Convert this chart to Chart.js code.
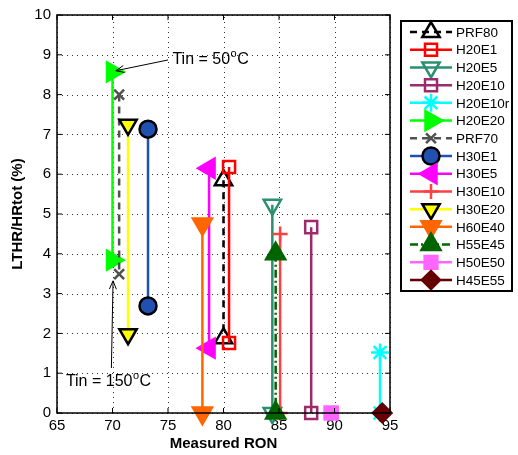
<!DOCTYPE html>
<html>
<head>
<meta charset="utf-8">
<script src="https://cdn.jsdelivr.net/npm/chart.js@4.4.0/dist/chart.umd.min.js"></script>
<style>
  html, body { margin: 0; padding: 0; background: #fff; }
</style>
</head>
<body>
<canvas id="ronChart" width="518" height="455"></canvas>
<script>
const seriesNames = ['PRF80', 'H20E1', 'H20E5', 'H20E10', 'H20E10r', 'H20E20', 'PRF70', 'H30E1',
                     'H30E5', 'H30E10', 'H30E20', 'H60E40', 'H55E45', 'H50E50', 'H45E55'];
const ron        = [80.0, 80.5, 84.4, 87.9, 94.1, 70.0, 70.6, 73.2, 78.7, 85.1, 71.4, 78.1, 84.7, 89.7, 94.3];
const lthrTin50  = [5.85, 6.18, 5.23, 4.67, 1.52, 8.57, 8.00, 7.13, 6.15, 4.50, 7.24, 4.75, 4.00, 0, 0];
const lthrTin150 = [1.88, 1.76, 0, 0, 0, 3.84, 3.49, 2.69, 1.63, 0, 1.98, 0, 0, 0, 0];

const xTicks = [65, 70, 75, 80, 85, 90, 95];
const yTicks = [0, 1, 2, 3, 4, 5, 6, 7, 8, 9, 10];

// estilo de cada serie (cor, traco, marcador)
const seriesStyles = [
  { color: '#000000', dash: [7, 5],       marker: 'triangle', rot: 0,   fill: 'transparent', edge: '#000000', size: 10 },
  { color: '#FF0000', dash: [],           marker: 'rect',     rot: 0,   fill: 'transparent', edge: '#FF0000', size: 8.5 },
  { color: '#2A9070', dash: [],           marker: 'triangle', rot: 180, fill: 'transparent', edge: '#2A9070', size: 10 },
  { color: '#9C2A6C', dash: [],           marker: 'rect',     rot: 0,   fill: 'transparent', edge: '#9C2A6C', size: 8.5 },
  { color: '#00FFFF', dash: [],           marker: 'star',     rot: 0,   fill: 'transparent', edge: '#00FFFF', size: 9 },
  { color: '#00FF00', dash: [],           marker: 'triangle', rot: 90,  fill: '#00FF00',     edge: '#00FF00', size: 11 },
  { color: '#505050', dash: [7, 5],       marker: 'crossRot', rot: 0,   fill: 'transparent', edge: '#505050', size: 7 },
  { color: '#2050B0', dash: [],           marker: 'circle',   rot: 0,   fill: '#2050B0',     edge: '#000000', size: 8.5 },
  { color: '#FF00FF', dash: [],           marker: 'triangle', rot: 270, fill: '#FF00FF',     edge: '#FF00FF', size: 11 },
  { color: '#FF4040', dash: [],           marker: 'cross',    rot: 0,   fill: 'transparent', edge: '#FF4040', size: 7.5 },
  { color: '#FFFF00', dash: [],           marker: 'triangle', rot: 180, fill: '#FFFF00',     edge: '#000000', size: 10 },
  { color: '#FF6600', dash: [],           marker: 'triangle', rot: 180, fill: '#FF6600',     edge: '#FF6600', size: 11 },
  { color: '#006400', dash: [8, 3, 2, 3], marker: 'triangle', rot: 0,   fill: '#006400',     edge: '#006400', size: 11 },
  { color: '#FF66FF', dash: [],           marker: 'rect',     rot: 0,   fill: '#FF66FF',     edge: '#FF66FF', size: 9 },
  { color: '#660000', dash: [],           marker: 'rectRot',  rot: 0,   fill: '#660000',     edge: '#660000', size: 9 }
];

const fonte = '"Liberation Sans", Arial, Helvetica, sans-serif';

const datasets = seriesNames.map(function(nome, i) {
  const st = seriesStyles[i];
  return {
    label: nome,
    data: [{ x: ron[i], y: lthrTin50[i] }, { x: ron[i], y: lthrTin150[i] }],
    borderColor: st.color,
    borderWidth: 2.5,
    borderDash: st.dash,
    pointStyle: st.marker,
    pointRotation: st.rot,
    pointRadius: st.size,
    pointBackgroundColor: st.fill,
    pointBorderColor: st.edge,
    pointBorderWidth: 2.5,
    showLine: true,
    fill: false,
    clip: false,
    order: seriesNames.length - i
  };
});

// desenha um marcador (legenda)
function desenharMarcador(ctx, st, x, y) {
  ctx.save();
  ctx.setLineDash([]);
  ctx.lineWidth = 2.5;
  ctx.strokeStyle = st.edge;
  ctx.fillStyle = st.fill;
  Chart.helpers.drawPoint(ctx, { pointStyle: st.marker, rotation: st.rot, radius: st.size, borderWidth: 2.5 }, x, y);
  ctx.restore();
}

function seta(ctx, x1, y1, x2, y2) {
  const ang = Math.atan2(y2 - y1, x2 - x1);
  ctx.beginPath();
  ctx.moveTo(x1, y1);
  ctx.lineTo(x2, y2);
  ctx.moveTo(x2 - 9 * Math.cos(ang - 0.4), y2 - 9 * Math.sin(ang - 0.4));
  ctx.lineTo(x2, y2);
  ctx.lineTo(x2 - 9 * Math.cos(ang + 0.4), y2 - 9 * Math.sin(ang + 0.4));
  ctx.stroke();
}

function textoTin(ctx, x, y, valor) {
  ctx.font = '16px ' + fonte;
  ctx.textBaseline = 'middle';
  ctx.textAlign = 'left';
  ctx.fillStyle = '#000';
  const t = 'Tin = ' + valor;
  ctx.fillText(t, x, y);
  let w = ctx.measureText(t).width;
  ctx.font = '11px ' + fonte;
  ctx.fillText('o', x + w + 0.5, y - 6);
  w += ctx.measureText('o').width + 1;
  ctx.font = '16px ' + fonte;
  ctx.fillText('C', x + w, y);
}

// grade pontilhada atras das series
const gradePlugin = {
  id: 'grade',
  beforeDatasetsDraw: function(chart) {
    const ctx = chart.ctx;
    const a = chart.chartArea;
    const sx = chart.scales.x, sy = chart.scales.y;
    ctx.save();
    ctx.strokeStyle = '#333';
    ctx.lineWidth = 1;
    ctx.setLineDash([1, 4]);
    ctx.beginPath();
    xTicks.forEach(function(v) {
      const px = Math.round(sx.getPixelForValue(v)) + 0.5;
      ctx.moveTo(px, a.bottom); ctx.lineTo(px, a.top);
    });
    yTicks.forEach(function(v) {
      const py = Math.round(sy.getPixelForValue(v)) + 0.5;
      ctx.moveTo(a.left, py); ctx.lineTo(a.right, py);
    });
    ctx.stroke();
    ctx.restore();
  }
};

// caixa, ticks internos, anotacoes e legenda
const extrasPlugin = {
  id: 'extras',
  afterDraw: function(chart) {
    const ctx = chart.ctx;
    const a = chart.chartArea;
    const sx = chart.scales.x, sy = chart.scales.y;
    ctx.save();

    // caixa do eixo
    ctx.strokeStyle = '#000';
    ctx.lineWidth = 1.5;
    ctx.setLineDash([]);
    ctx.strokeRect(a.left, a.top, a.right - a.left, a.bottom - a.top);

    // ticks para dentro
    ctx.lineWidth = 1;
    ctx.beginPath();
    xTicks.forEach(function(v) {
      const px = sx.getPixelForValue(v);
      ctx.moveTo(px, a.bottom); ctx.lineTo(px, a.bottom - 5);
      ctx.moveTo(px, a.top); ctx.lineTo(px, a.top + 5);
    });
    yTicks.forEach(function(v) {
      const py = sy.getPixelForValue(v);
      ctx.moveTo(a.left, py); ctx.lineTo(a.left + 5, py);
      ctx.moveTo(a.right, py); ctx.lineTo(a.right - 5, py);
    });
    ctx.stroke();

    // anotacoes Tin
    ctx.lineWidth = 1;
    ctx.strokeStyle = '#000';
    seta(ctx, sx.getPixelForValue(75.0), sy.getPixelForValue(8.87), sx.getPixelForValue(70.3), sy.getPixelForValue(8.6));
    textoTin(ctx, sx.getPixelForValue(75.4), sy.getPixelForValue(8.87), '50');
    seta(ctx, sx.getPixelForValue(69.9), sy.getPixelForValue(1.13), sx.getPixelForValue(70.05), sy.getPixelForValue(3.32));
    textoTin(ctx, sx.getPixelForValue(65.8), sy.getPixelForValue(0.78), '150');

    // legenda
    const lg = { left: 401, top: 21, right: 512, bottom: 291 };
    ctx.fillStyle = '#fff';
    ctx.fillRect(lg.left, lg.top, lg.right - lg.left, lg.bottom - lg.top);
    ctx.strokeStyle = '#000';
    ctx.lineWidth = 2;
    ctx.strokeRect(lg.left, lg.top, lg.right - lg.left, lg.bottom - lg.top);
    const passo = (lg.bottom - lg.top - 22) / (seriesNames.length - 1);
    seriesNames.forEach(function(nome, i) {
      const st = seriesStyles[i];
      const y = lg.top + 11 + i * passo;
      ctx.save();
      ctx.strokeStyle = st.color;
      ctx.lineWidth = 2.5;
      ctx.setLineDash(st.dash);
      ctx.beginPath();
      ctx.moveTo(410, y);
      ctx.lineTo(452, y);
      ctx.stroke();
      ctx.restore();
      desenharMarcador(ctx, st, 431, y);
      ctx.fillStyle = '#000';
      ctx.font = '13.5px ' + fonte;
      ctx.textAlign = 'left';
      ctx.textBaseline = 'middle';
      ctx.fillText(nome, 456, y + 1);
    });

    ctx.restore();
  }
};

const ctx = document.getElementById('ronChart').getContext('2d');
const ronChart = new Chart(ctx, {
  type: 'line',
  data: { datasets: datasets },
  options: {
    responsive: false,
    animation: false,
    layout: { padding: { top: 15, right: 128, left: 0, bottom: 0 } },
    plugins: {
      legend: { display: false },
      tooltip: { enabled: false }
    },
    scales: {
      x: {
        type: 'linear',
        min: 65,
        max: 95,
        afterBuildTicks: function(scale) { scale.ticks = xTicks.map(function(v) { return { value: v }; }); },
        afterFit: function(scale) { scale.height = 42; },
        ticks: { color: '#000', padding: 4, font: { family: fonte, size: 15 } },
        grid: { display: false, drawTicks: false },
        border: { display: false },
        title: { display: true, text: 'Measured RON', color: '#000', padding: { top: 0, bottom: 2 },
                 font: { family: fonte, size: 15, weight: 'bold' } }
      },
      y: {
        min: 0,
        max: 10,
        afterBuildTicks: function(scale) { scale.ticks = yTicks.map(function(v) { return { value: v }; }); },
        afterFit: function(scale) { scale.width = 57; },
        ticks: { color: '#000', padding: 6, font: { family: fonte, size: 15 } },
        grid: { display: false, drawTicks: false },
        border: { display: false },
        title: { display: true, text: 'LTHR/HRtot (%)', color: '#000', padding: { top: 9, bottom: 0 },
                 font: { family: fonte, size: 15, weight: 'bold' } }
      }
    }
  },
  plugins: [gradePlugin, extrasPlugin]
});
</script>
</body>
</html>
